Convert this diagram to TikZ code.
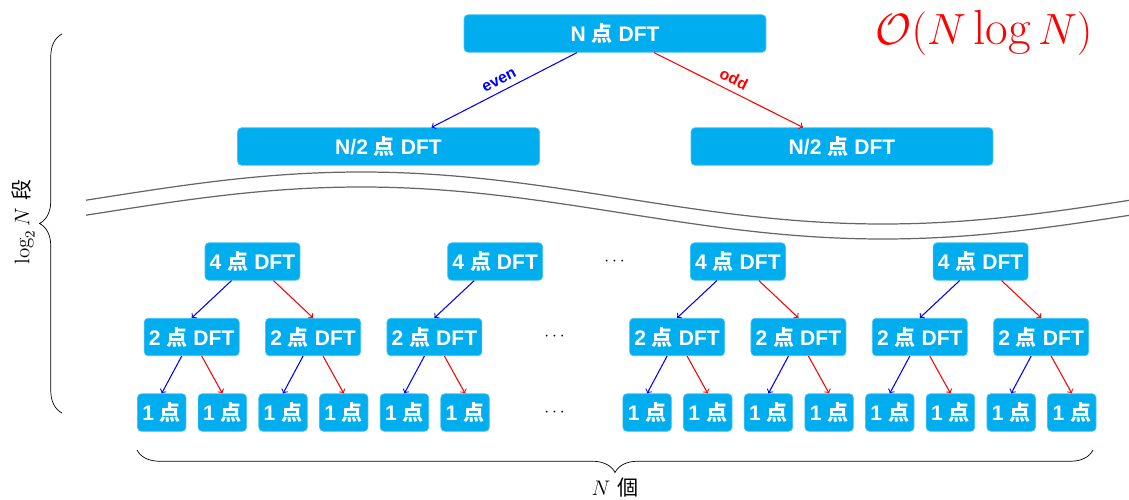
\documentclass[tikz,border=0pt]{standalone}
\usepackage{amsmath,amssymb}
\usepackage{fontspec}
\usepackage{tikz}
\usetikzlibrary{arrows,decorations.pathreplacing,calc}
\newfontfamily\boxfont{Liberation Sans}
\newfontfamily\cjk{Noto Sans CJK SC}
\newcommand{\dian}{{\cjk 点}}
\definecolor{boxfill}{RGB}{0,174,239}
\definecolor{boxedge}{RGB}{70,195,245}
\tikzset{
    dft-box/.style={
        rectangle,
        rounded corners=0.8mm,
        draw=boxedge,
        fill=boxfill,
        text=white,
        font=\boxfont\bfseries\fontsize{12}{14}\selectfont,
        minimum height=7.5mm,
        minimum width=19mm,
        inner sep=0pt,
    },
    top-box/.style={
        dft-box,
        minimum width=60.4mm,
    },
    unit-box/.style={
        dft-box,
        minimum width=9.7mm,
    },
    even-edge/.style={
        draw=blue,
        ->,
        semithick,
    },
    odd-edge/.style={
        draw=red,
        ->,
        semithick,
    },
    tag/.style={
        font=\boxfont\bfseries\fontsize{9}{10}\selectfont,
        sloped,
        above,
    },
    cut/.style={
        draw=black!60,
        line width=0.7pt,
    },
    stage-brace/.style={
        decorate,
        decoration={brace, amplitude=4.5mm},
        thin,
    },
}

\begin{document}
\begin{tikzpicture}[x=0.02cm, y=-0.02cm]
    \useasboundingbox (0,0) rectangle (1129,500);

    % first split
    \node [top-box] (N) at (615,33.5) {N \dian\ DFT};
    \node [top-box] (L) at (388.5,146.5) {N/2 \dian\ DFT};
    \node [top-box] (R) at (842,146.5) {N/2 \dian\ DFT};
    \draw [even-edge] ([xshift=-7.6mm]N.south) -- node [tag, text=blue] {even} ([xshift=8.6mm]L.north);
    \draw [odd-edge] ([xshift=7.8mm]N.south) -- node [tag, text=red] {odd} ([xshift=-7.8mm]R.north);

    % the levels that are left out
    \draw [cut] plot [domain=86:1129, samples=120] (\x, {198-26*sin(0.3448*(\x-100))});
    \draw [cut] plot [domain=86:1129, samples=120] (\x, {213-26*sin(0.3448*(\x-100))});

    % last three levels
    \foreach \m in {0,...,3}
        \node [dft-box] (f\m) at ({252.5+242.7*\m},261.5) {4 \dian\ DFT};
    \node (dots4) at (616,262) {$\cdots$};

    \foreach \k in {0,1,2,4,5,6,7}
        \node [dft-box] (t\k) at ({191.7+121.35*\k},337) {2 \dian\ DFT};
    \node (dots2) at (556,337) {$\cdots$};

    \foreach \j in {0,...,5,8,9,...,15}
        \node [unit-box] (u\j) at ({161.7+60.675*\j},412.5) {1 \dian};
    \node (dots1) at (556,412.5) {$\cdots$};

    \foreach \m/\a/\b in {0/0/1,2/4/5,3/6/7} {
        \draw [even-edge] ([xshift=-4.2mm]f\m.south) -- (t\a.north);
        \draw [odd-edge] ([xshift=4.2mm]f\m.south) -- (t\b.north);
    }
    \draw [even-edge] ([xshift=-4.2mm]f1.south) -- (t2.north);

    \foreach \k in {0,1,2,4,5,6,7} {
        \pgfmathtruncatemacro\a{2*\k}
        \pgfmathtruncatemacro\b{2*\k+1}
        \draw [even-edge] ([xshift=-2mm]t\k.south) -- (u\a.north);
        \draw [odd-edge] ([xshift=2mm]t\k.south) -- (u\b.north);
    }

    % braces
    \coordinate (stage-bottom) at (62,413);
    \coordinate (stage-top) at (62,34);
    \draw [stage-brace] (stage-bottom) -- (stage-top);
    \node [rotate=90, font=\large] (stages) at (23,222) {$\log_2 N$ {\cjk 段}};

    \coordinate (count-right) at (1093,450);
    \coordinate (count-left) at (137,450);
    \draw [stage-brace] (count-right) -- (count-left);
    \node [font=\large] (count) at (615,488) {$N$ {\cjk 個}};

    \node [text=red, font=\fontsize{28}{32}\selectfont] (cost) at (984,33) {$\mathcal{O}(N\log N)$};
\end{tikzpicture}
\end{document}
